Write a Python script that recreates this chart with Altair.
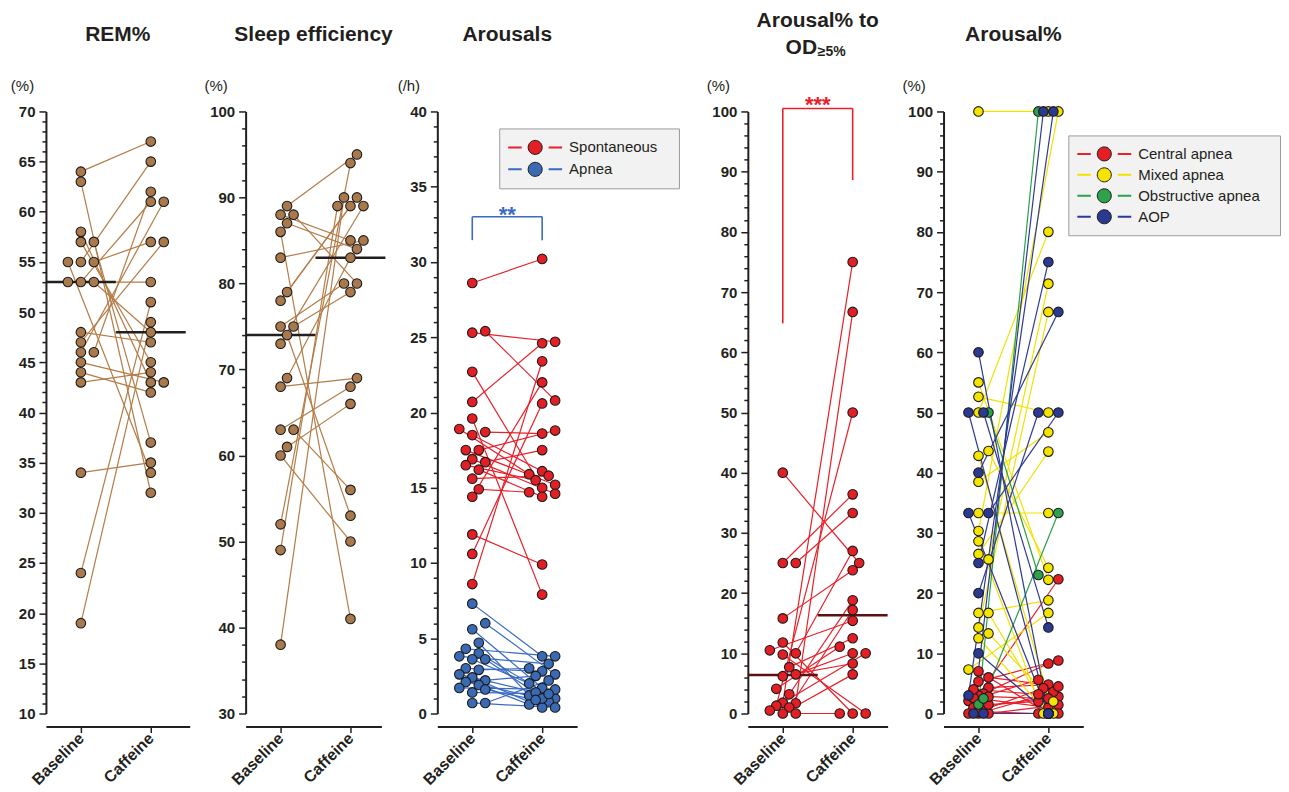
import altair as alt
import pandas as pd

# ---------------- data ----------------
rem_baseline = [64, 63, 58, 57, 57, 55, 55, 55, 53, 53, 53, 48, 47, 46, 46, 45, 44, 43, 34, 24, 19]
rem_caffeine = [67, 32, 43, 45, 37, 65, 57, 34, 61, 48, 53, 47, 57, 61, 62, 43, 42, 44, 35, 51, 49]
rem_medians = [53, 48]

se_baseline = [89, 88, 88, 87, 86, 83, 79, 78, 75, 75, 74, 73, 52, 69, 63, 63, 61, 68, 60, 49, 38]
se_caffeine = [95, 85, 80, 84, 41, 85, 90, 89, 80, 79, 53, 89, 94, 83, 68, 56, 66, 69, 50, 89, 90]
se_medians = [74, 83]

spont_baseline = [28.6, 25.3, 25.4, 22.7, 20.7, 19.6, 18.9, 18.7, 18.5, 17.5, 17.5, 16.9, 16.7, 16.5, 16.2, 15.6, 14.9, 14.4, 11.9, 10.6, 8.6]
spont_caffeine = [30.2, 24.7, 20.8, 15.0, 24.6, 7.9, 15.9, 18.6, 16.1, 18.8, 15.2, 14.6, 17.5, 15.5, 14.4, 15.8, 14.7, 22.0, 9.9, 20.6, 23.4]
apnea_baseline = [7.3, 6.0, 5.6, 4.7, 4.3, 4.0, 3.8, 3.6, 3.6, 3.0, 2.9, 2.6, 2.4, 2.2, 2.1, 1.9, 1.7, 1.6, 1.4, 0.7, 0.7]
apnea_caffeine = [3.8, 2.6, 1.7, 1.2, 3.8, 1.0, 3.3, 2.0, 0.8, 2.8, 3.0, 1.4, 0.4, 2.5, 1.0, 0.6, 1.6, 0.9, 1.3, 0.4, 2.2]

od_baseline = [40, 25, 25, 15.8, 11.8, 10.5, 10.0, 9.8, 7.7, 6.5, 6.2, 4.1, 3.2, 1.8, 1.7, 1.3, 1.0, 0.5, 0, 0]
od_caffeine = [25, 36.4, 33.3, 23.8, 0, 15.4, 27, 0, 12.5, 10, 8.3, 11.1, 18.8, 75, 66.7, 50, 17.2, 10, 6.5, 0]
od_medians = [6.4, 16.3]

central_baseline = [7.0, 5.3, 4.3, 3.3, 3.0, 2.1, 1.0, 0.6, 0.0, 0.0, 0.0, 2.6, 1.5, 0.3, 4.0, 6.0, 2.8]
central_caffeine = [0.0, 8.8, 4.8, 8.3, 22.3, 5.6, 2.8, 4.2, 3.6, 1.4, 0.0, 1.0, 2.0, 0.0, 3.2, 4.5, 2.5]
mixed_baseline = [100, 55, 52.6, 50, 43.6, 42.8, 38.5, 33.3, 30.3, 28.6, 26.5, 25.6, 16.7, 16.7, 14.3, 13.3, 12.5, 7.3]
mixed_caffeine = [100, 22.2, 50, 80, 24.2, 0, 46.7, 33.3, 100, 0, 43.5, 71.4, 18.8, 0, 66.7, 2.0, 0, 16.7]
obstructive_baseline = [1.5, 2.5, 50]
obstructive_caffeine = [100, 33.3, 23.0]
aop_baseline = [60, 50, 50, 40, 33.3, 33.3, 25, 20, 10, 3, 0, 0]
aop_caffeine = [0, 0, 14.3, 66.7, 50, 0, 75, 50, 0, 100, 0, 100]

arousal_groups = ["Spontaneous", "Apnea"]
arousal_line_colors = ["#e8202a", "#3a6bc2"]
arousal_fill_colors = ["#e31e24", "#3a6ab4"]
type_groups = ["Central apnea", "Mixed apnea", "Obstructive apnea", "AOP"]
type_line_colors = ["#e8202a", "#f2e100", "#2aa048", "#2e3a94"]
type_fill_colors = ["#e31e24", "#f5e400", "#2ca24b", "#2b3990"]

conditions = ["Baseline", "Caffeine"]

# ---------------- styling ----------------
FONT = "Liberation Sans"
INK = "#231f20"
BROWN_LINE = "#b47c47"
BROWN_FILL = "#a9794b"
W, H = 140, 603
PX_PER_X = 70.0
DASH_PATH = "M-1,0L-0.5,0M0.5,0L1,0"
CIRC_PATH = "M0.26,0A0.26,0.26,0,1,1,-0.26,0A0.26,0.26,0,1,1,0.26,0Z"
SYM = 2916
PT_SIZE = 92
TITLE_SIZE = 21


def long_rows(base, caff, group, start):
    rows = []
    for i, (b, c) in enumerate(zip(base, caff)):
        rows.append(dict(id=start + i, cond=0, v=b, grp=group))
        rows.append(dict(id=start + i, cond=1, v=c, grp=group))
    return rows


def add_jitter(df, ymin, ymax, step=6.5, min_d=9.5):
    df = df.reset_index(drop=True).copy()
    df["x"] = df["cond"].astype(float)
    for cond in (0, 1):
        idx = list(df.index[df["cond"] == cond])
        py = {i: (df.at[i, "v"] - ymin) / (ymax - ymin) * H for i in idx}
        order = sorted(idx, key=lambda i: (py[i], i))
        placed = []
        for i in order:
            best, bestd = 0.0, -1.0
            for c in (0, 1, -1, 2, -2):
                x = c * step
                md = min((((x - a) ** 2 + (py[i] - b) ** 2) ** 0.5 for a, b in placed), default=1e9)
                if md >= min_d:
                    best = x
                    break
                if md > bestd:
                    bestd, best = md, x
            placed.append((best, py[i]))
            df.at[i, "x"] = cond + best / PX_PER_X
    return df


def x_axis():
    return alt.Axis(values=[0, 1], labelExpr="datum.value == 0 ? 'Baseline' : 'Caffeine'",
                    title=None, grid=False, offset=13, domainColor=INK, domainWidth=2,
                    tickColor=INK, tickWidth=1.5, tickSize=6, labelAngle=315, labelAlign="right",
                    labelBaseline="middle", labelFont=FONT, labelFontSize=16, labelFontWeight="bold",
                    labelColor=INK, labelPadding=3, labelFlush=False, labelOverlap=False)


def y_axis(ymin, ymax, major, minor, unit, tx):
    vals = list(range(ymin, ymax + 1, minor))
    return alt.Axis(values=vals, labelExpr=f"datum.value % {major} === 0 ? datum.label : ''",
                    tickSize={"condition": {"test": f"datum.value % {major} === 0", "value": 7}, "value": 4},
                    grid=False, domainColor=INK, domainWidth=2, tickColor=INK, tickWidth=1.5,
                    labelFont=FONT, labelFontSize=15, labelFontWeight="bold", labelColor=INK,
                    labelPadding=4, labelOverlap=False, labelFlush=False,
                    title=unit, titleAngle=0, titleAlign="center", titleBaseline="middle",
                    titleX=tx, titleY=-26, titleFont=FONT, titleFontSize=15,
                    titleFontWeight="normal", titleColor=INK)


def line_legend(lx, ly, rowh, extra_w):
    return alt.Legend(orient="none", legendX=lx, legendY=ly, title="\u00a0", titleOrient="right",
                      titleFontSize=15, titlePadding=extra_w, titleOpacity=0,
                      symbolType=DASH_PATH,
                      symbolSize=SYM, symbolStrokeWidth=2, symbolFillColor="transparent",
                      clipHeight=rowh, rowPadding=0, padding=8, fillColor="#f2f2f2",
                      strokeColor="#9b9b9b", labelFont=FONT, labelFontSize=15, labelColor=INK,
                      labelOffset=6, zindex=0, symbolOpacity=1)


def fill_legend(lx, ly, rowh):
    return alt.Legend(orient="none", legendX=lx, legendY=ly, title=None, symbolType=CIRC_PATH,
                      symbolSize=SYM, symbolStrokeWidth=1, symbolStrokeColor="#1a1a1a",
                      symbolOffset=0.5, clipHeight=rowh, rowPadding=0, padding=8,
                      labelFont=FONT, labelFontSize=15, labelOpacity=0, labelOffset=6,
                      zindex=1, symbolOpacity=1)


def make_panel(df, yspec, title, title_offset, width=W, line_color=None, fill_color=None,
               color_spec=None, medians=None, median_color=INK, extras=None):
    ymin, ymax, major, minor, unit, tx = yspec
    xs = alt.Scale(domain=[-0.5, -0.5 + width / PX_PER_X], nice=False, zero=False)
    ys = alt.Scale(domain=[ymin, ymax], nice=False, zero=False)

    def X(f):
        return alt.X(f, type="quantitative", scale=xs, axis=x_axis())

    def Y(f):
        return alt.Y(f, type="quantitative", scale=ys, axis=y_axis(ymin, ymax, major, minor, unit, tx))

    base = alt.Chart(df)
    layers = []
    if color_spec is None:
        layers.append(base.mark_line(strokeWidth=1.2, color=line_color)
                      .encode(x=X("x"), y=Y("v"), detail="id:N"))
    else:
        key, order, lcols, fcols, lx, ly, rowh, extra_w = color_spec
        layers.append(base.mark_line(strokeWidth=1.2)
                      .encode(x=X("x"), y=Y("v"), detail="id:N",
                              color=alt.Color(f"gl{key}:N", sort=order,
                                              scale=alt.Scale(range=lcols),
                                              legend=line_legend(lx, ly, rowh, extra_w))))
    if medians is not None:
        mdf = pd.DataFrame({"lo": [-0.5, 0.5], "hi": [0.5, 1.5], "m": medians})
        layers.append(alt.Chart(mdf).mark_rule(color=median_color, strokeWidth=2.5)
                      .encode(x=X("lo"), x2="hi", y=Y("m")))
    if color_spec is None:
        layers.append(base.mark_circle(size=PT_SIZE, fill=fill_color, stroke="#1a1a1a",
                                       strokeWidth=1.1, opacity=1)
                      .encode(x=X("x"), y=Y("v")))
    else:
        layers.append(base.mark_circle(size=PT_SIZE, stroke="#1a1a1a", strokeWidth=1.1, opacity=1)
                      .encode(x=X("x"), y=Y("v"),
                              fill=alt.Fill(f"gp{key}:N", sort=order,
                                            scale=alt.Scale(range=fcols),
                                            legend=fill_legend(lx, ly, rowh))))
    if extras:
        for ex in extras:
            layers.append(ex(X, Y))
    props = dict(width=width, height=H)
    if title is not None:
        props["title"] = alt.TitleParams(text=title, font=FONT, fontSize=TITLE_SIZE,
                                         fontWeight="bold", color=INK, anchor="middle",
                                         frame="group", offset=title_offset)
    return alt.layer(*layers).properties(**props)


def bracket(rows, color, star, star_y, size=22):
    bdf = pd.DataFrame(rows, columns=["bx", "bx2", "by", "by2"])
    sdf = pd.DataFrame({"sx": [0.5], "sy": [star_y], "t": [star]})

    def build(X, Y):
        r = alt.Chart(bdf).mark_rule(color=color, strokeWidth=1.6).encode(
            x=X("bx"), x2="bx2", y=Y("by"), y2="by2")
        t = alt.Chart(sdf).mark_text(color=color, font=FONT, fontSize=size, fontWeight="bold",
                                     align="center", baseline="alphabetic").encode(
            x=X("sx"), y=Y("sy"), text="t:N")
        return alt.layer(r, t)
    return build


def heading(xv, yv, txt, size, align):
    tdf = pd.DataFrame({"tx": [xv], "ty": [yv], "t": [txt]})

    def build(X, Y):
        return alt.Chart(tdf).mark_text(color=INK, font=FONT, fontSize=size, fontWeight="bold",
                                        align=align, baseline="middle").encode(
            x=X("tx"), y=Y("ty"), text="t:N")
    return build


# ---------------- panels ----------------
df1 = add_jitter(pd.DataFrame(long_rows(rem_baseline, rem_caffeine, "all", 0)), 10, 70)
p1 = make_panel(df1, (10, 70, 5, 1, "(%)", -24), "REM%", 34, width=144,
                line_color=BROWN_LINE, fill_color=BROWN_FILL, medians=rem_medians)

df2 = add_jitter(pd.DataFrame(long_rows(se_baseline, se_caffeine, "all", 0)), 30, 100)
p2 = make_panel(df2, (30, 100, 10, 2, "(%)", -30), "Sleep efficiency", 34, width=136,
                line_color=BROWN_LINE, fill_color=BROWN_FILL, medians=se_medians)

rows3 = long_rows(spont_baseline, spont_caffeine, arousal_groups[0], 0) + \
    long_rows(apnea_baseline, apnea_caffeine, arousal_groups[1], 100)
df3 = add_jitter(pd.DataFrame(rows3), 0, 40)
df3["gl3"] = df3["grp"]
df3["gp3"] = df3["grp"]
p3 = make_panel(df3, (0, 40, 5, 1, "(/h)", -29), "Arousals", 34,
                color_spec=("3", arousal_groups, arousal_line_colors, arousal_fill_colors, 62, 17, 22, 14),
                extras=[bracket([[0, 1, 33.0, 33.0], [0, 0, 33.0, 31.45], [1, 1, 33.0, 31.45]],
                                "#3a6bc2", "**", 32.67)])

df4 = add_jitter(pd.DataFrame(long_rows(od_baseline, od_caffeine, "all", 0)), 0, 100)
p4 = make_panel(df4, (0, 100, 10, 2, "(%)", -30), None, 0,
                line_color="#e8202a", fill_color="#e31e24", medians=od_medians, median_color="#5c1010",
                extras=[bracket([[0, 1, 100.5, 100.5], [0, 0, 100.5, 64.8], [1, 1, 100.5, 88.6]],
                                "#e8202a", "***", 99.95),
                        heading(0.5, 115.1, "Arousal% to", TITLE_SIZE, "center"),
                        heading(0.49, 110.6, "OD", TITLE_SIZE, "right"),
                        heading(0.5, 109.8, "\u22655%", 14, "left")])

rows5 = long_rows(central_baseline, central_caffeine, type_groups[0], 0) + \
    long_rows(mixed_baseline, mixed_caffeine, type_groups[1], 100) + \
    long_rows(obstructive_baseline, obstructive_caffeine, type_groups[2], 200) + \
    long_rows(aop_baseline, aop_caffeine, type_groups[3], 300)
df5 = add_jitter(pd.DataFrame(rows5), 0, 100, step=5.0, min_d=8.5)
df5["gl5"] = df5["grp"]
df5["gp5"] = df5["grp"]
p5 = make_panel(df5, (0, 100, 10, 2, "(%)", -30), "Arousal%", 34,
                color_spec=("5", type_groups, type_line_colors, type_fill_colors, 125, 24, 21, 12))

spacer = alt.Chart(pd.DataFrame({"s": [0]})).mark_point(opacity=0).encode(
    x=alt.X("s:Q", axis=None), y=alt.Y("s:Q", axis=None)).properties(width=59, height=H)

chart = alt.hconcat(p1, p2, p3, spacer, p4, p5, spacing=56, bounds="flush").resolve_scale(
    x="independent", y="independent", color="independent", fill="independent"
).properties(padding={"left": 2, "top": 0, "right": 0, "bottom": 0}).configure_view(stroke=None)

chart.save("out.html", embed_options={"renderer": "svg", "actions": False})
